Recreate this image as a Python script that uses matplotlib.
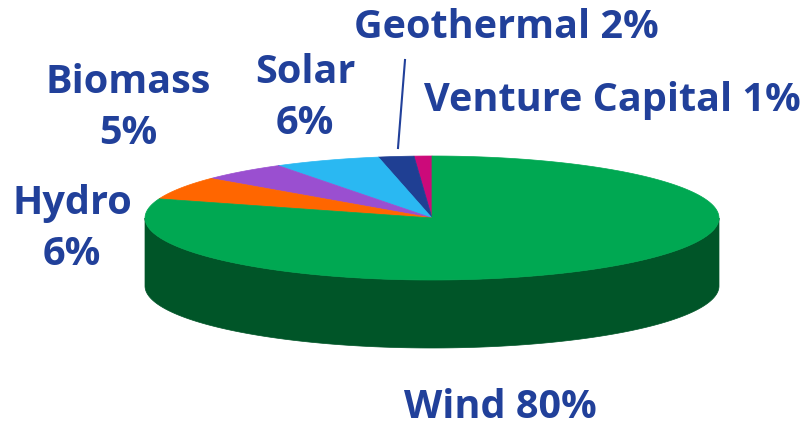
import numpy as np
import matplotlib.pyplot as plt
from matplotlib.patches import Polygon

# slices, counter-clockwise from 12 o'clock
labels = ["Venture Capital", "Geothermal", "Solar", "Biomass", "Hydro", "Wind"]
shares = [1, 2, 6, 5, 6, 80]
top_colors = ["#CC0A7A", "#1F3F93", "#2AB8F2", "#9A4FD0", "#FF6600", "#00A852"]
side_colors = ["#8A0552", "#142A63", "#1A7DA6", "#68338F", "#B34700", "#005528"]

text_color = "#21409A"

# pie geometry in pixels
cx, cy = 432, 218
rx, ry = 287, 62
depth = 68


def arc(a0, a1, yoff=0, n=200):
    t = np.radians(np.linspace(a0, a1, n))
    return np.column_stack([cx + rx * np.cos(t), cy + yoff - ry * np.sin(t)])


fig = plt.figure(figsize=(8.07, 4.26), dpi=100)
ax = fig.add_axes([0, 0, 1, 1])
ax.set_xlim(0, 807)
ax.set_ylim(426, 0)
ax.axis("off")

bounds = 90 + 360 * np.concatenate([[0], np.cumsum(shares)]) / sum(shares)

# side walls (front half only: 180..360 deg)
for i in range(len(shares)):
    a0, a1 = bounds[i], bounds[i + 1]
    for k in (0, 360):
        s0, s1 = max(a0, 180 + k), min(a1, 360 + k)
        if s1 > s0:
            top = arc(s0, s1)
            bot = arc(s1, s0, depth)
            ax.add_patch(Polygon(np.vstack([top, bot]), closed=True,
                                 facecolor=side_colors[i], edgecolor=side_colors[i], lw=0.5))

# top face
for i in range(len(shares)):
    pts = np.vstack([[cx, cy], arc(bounds[i], bounds[i + 1])])
    ax.add_patch(Polygon(pts, closed=True, facecolor=top_colors[i],
                         edgecolor=top_colors[i], lw=0.5))

font = dict(color=text_color, fontweight="bold", fontsize=28.5,
            family=["Open Sans", "DejaVu Sans"], ha="center", va="center",
            linespacing=1.42)

ax.text(506, 28, f"{labels[1]} {shares[1]}%", **font)
ax.text(612, 100, f"{labels[0]} {shares[0]}%", **font)
ax.text(305, 98, f"{labels[2]}\n{shares[2]}%", **font)
ax.text(128, 108, f"{labels[3]}\n{shares[3]}%", **font)
ax.text(72, 229, f"{labels[4]}\n{shares[4]}%", **font)
ax.text(500, 407, f"{labels[5]} {shares[5]}%", **font)

ax.plot([405, 398], [60, 148], color=text_color, lw=1.5)

fig.savefig("out.png", dpi=100)
